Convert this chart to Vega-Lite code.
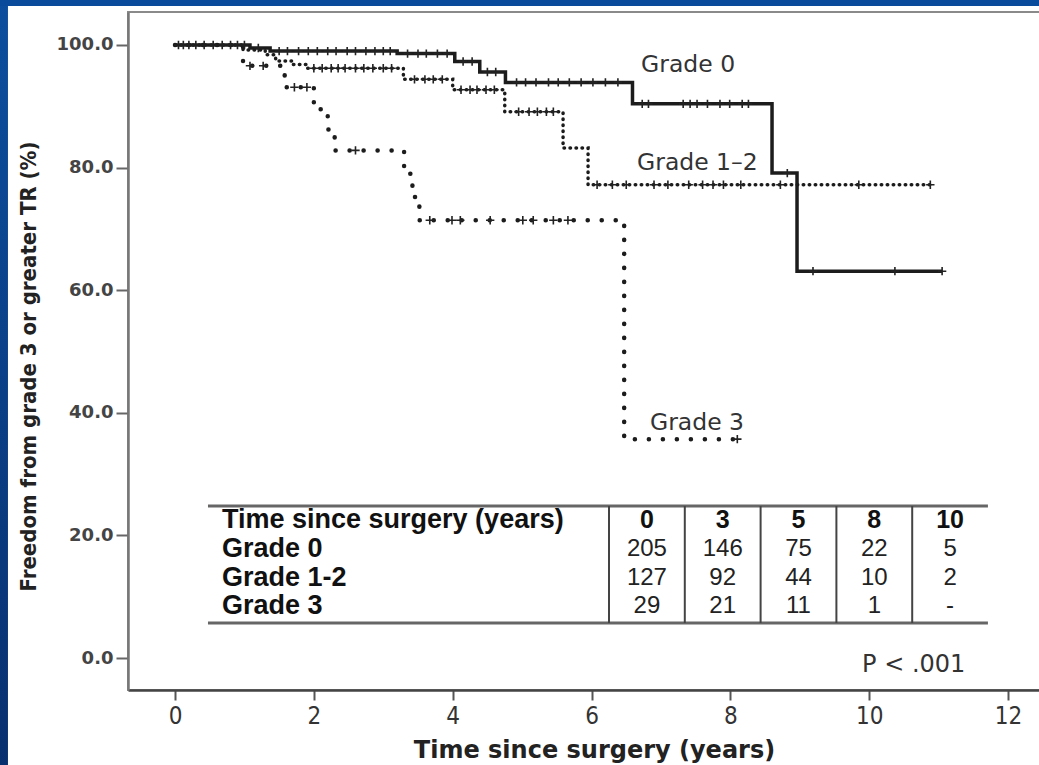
{
  "$schema": "https://vega.github.io/schema/vega-lite/v6.json",
  "width": 912,
  "height": 678,
  "autosize": {"type": "none"},
  "padding": {"left": 128, "top": 12, "right": 0, "bottom": 75},
  "background": "#ffffff",
  "config": {"view": {"stroke": "#8a8a8a", "strokeWidth": 2}},
  "datasets": {
    "km": [
      {"grade": "Grade 0", "t": 0, "s": 100}, {"grade": "Grade 0", "t": 1.08, "s": 99.5}, {"grade": "Grade 0", "t": 1.37, "s": 99.0},
      {"grade": "Grade 0", "t": 3.2, "s": 98.6}, {"grade": "Grade 0", "t": 4.03, "s": 97.3}, {"grade": "Grade 0", "t": 4.39, "s": 95.6},
      {"grade": "Grade 0", "t": 4.76, "s": 93.9}, {"grade": "Grade 0", "t": 6.59, "s": 90.4}, {"grade": "Grade 0", "t": 8.6, "s": 79.1},
      {"grade": "Grade 0", "t": 8.96, "s": 63.1}, {"grade": "Grade 0", "t": 11.05, "s": 63.1},
      {"grade": "Grade 1-2", "t": 0, "s": 100}, {"grade": "Grade 1-2", "t": 0.98, "s": 99.2}, {"grade": "Grade 1-2", "t": 1.3, "s": 98.4},
      {"grade": "Grade 1-2", "t": 1.45, "s": 97.4}, {"grade": "Grade 1-2", "t": 1.68, "s": 96.8}, {"grade": "Grade 1-2", "t": 1.9, "s": 96.2},
      {"grade": "Grade 1-2", "t": 3.29, "s": 94.4}, {"grade": "Grade 1-2", "t": 4.0, "s": 92.7}, {"grade": "Grade 1-2", "t": 4.75, "s": 89.1},
      {"grade": "Grade 1-2", "t": 5.59, "s": 83.2}, {"grade": "Grade 1-2", "t": 5.95, "s": 77.2}, {"grade": "Grade 1-2", "t": 10.88, "s": 77.2},
      {"grade": "Grade 3", "t": 0, "s": 100}, {"grade": "Grade 3", "t": 0.98, "s": 96.6}, {"grade": "Grade 3", "t": 1.58, "s": 93.1},
      {"grade": "Grade 3", "t": 2.0, "s": 89.5}, {"grade": "Grade 3", "t": 2.2, "s": 86.2}, {"grade": "Grade 3", "t": 2.3, "s": 82.8},
      {"grade": "Grade 3", "t": 3.3, "s": 79.0}, {"grade": "Grade 3", "t": 3.42, "s": 75.2}, {"grade": "Grade 3", "t": 3.52, "s": 71.4},
      {"grade": "Grade 3", "t": 6.47, "s": 35.7}, {"grade": "Grade 3", "t": 8.1, "s": 35.7}
    ],
    "censor": [
      {"grade": "Grade 0", "t": 0.05, "s": 100}, {"grade": "Grade 0", "t": 0.12, "s": 100}, {"grade": "Grade 0", "t": 0.2, "s": 100},
      {"grade": "Grade 0", "t": 0.3, "s": 100}, {"grade": "Grade 0", "t": 0.42, "s": 100}, {"grade": "Grade 0", "t": 0.55, "s": 100},
      {"grade": "Grade 0", "t": 0.68, "s": 100}, {"grade": "Grade 0", "t": 0.8, "s": 100}, {"grade": "Grade 0", "t": 0.9, "s": 100},
      {"grade": "Grade 0", "t": 1.0, "s": 100}, {"grade": "Grade 0", "t": 1.2, "s": 99.5},
      {"grade": "Grade 0", "t": 1.5, "s": 99.0}, {"grade": "Grade 0", "t": 1.62, "s": 99.0}, {"grade": "Grade 0", "t": 1.78, "s": 99.0},
      {"grade": "Grade 0", "t": 1.92, "s": 99.0}, {"grade": "Grade 0", "t": 2.05, "s": 99.0}, {"grade": "Grade 0", "t": 2.2, "s": 99.0},
      {"grade": "Grade 0", "t": 2.32, "s": 99.0}, {"grade": "Grade 0", "t": 2.48, "s": 99.0}, {"grade": "Grade 0", "t": 2.6, "s": 99.0},
      {"grade": "Grade 0", "t": 2.75, "s": 99.0}, {"grade": "Grade 0", "t": 2.88, "s": 99.0}, {"grade": "Grade 0", "t": 3.0, "s": 99.0},
      {"grade": "Grade 0", "t": 3.1, "s": 99.0},
      {"grade": "Grade 0", "t": 3.35, "s": 98.6}, {"grade": "Grade 0", "t": 3.5, "s": 98.6}, {"grade": "Grade 0", "t": 3.62, "s": 98.6},
      {"grade": "Grade 0", "t": 3.78, "s": 98.6}, {"grade": "Grade 0", "t": 3.92, "s": 98.6},
      {"grade": "Grade 0", "t": 4.15, "s": 97.3}, {"grade": "Grade 0", "t": 4.28, "s": 97.3},
      {"grade": "Grade 0", "t": 4.5, "s": 95.6}, {"grade": "Grade 0", "t": 4.62, "s": 95.6},
      {"grade": "Grade 0", "t": 4.92, "s": 93.9}, {"grade": "Grade 0", "t": 5.05, "s": 93.9}, {"grade": "Grade 0", "t": 5.2, "s": 93.9},
      {"grade": "Grade 0", "t": 5.38, "s": 93.9}, {"grade": "Grade 0", "t": 5.52, "s": 93.9}, {"grade": "Grade 0", "t": 5.68, "s": 93.9},
      {"grade": "Grade 0", "t": 5.85, "s": 93.9}, {"grade": "Grade 0", "t": 6.02, "s": 93.9}, {"grade": "Grade 0", "t": 6.2, "s": 93.9},
      {"grade": "Grade 0", "t": 6.38, "s": 93.9},
      {"grade": "Grade 0", "t": 6.73, "s": 90.4}, {"grade": "Grade 0", "t": 6.82, "s": 90.4}, {"grade": "Grade 0", "t": 7.32, "s": 90.4},
      {"grade": "Grade 0", "t": 7.42, "s": 90.4}, {"grade": "Grade 0", "t": 7.52, "s": 90.4}, {"grade": "Grade 0", "t": 7.67, "s": 90.4},
      {"grade": "Grade 0", "t": 7.85, "s": 90.4}, {"grade": "Grade 0", "t": 7.99, "s": 90.4}, {"grade": "Grade 0", "t": 8.17, "s": 90.4},
      {"grade": "Grade 0", "t": 8.26, "s": 90.4}, {"grade": "Grade 0", "t": 8.82, "s": 79.1},
      {"grade": "Grade 0", "t": 9.19, "s": 63.1}, {"grade": "Grade 0", "t": 10.37, "s": 63.1}, {"grade": "Grade 0", "t": 11.05, "s": 63.1},
      {"grade": "Grade 1-2", "t": 2.0, "s": 96.2}, {"grade": "Grade 1-2", "t": 2.12, "s": 96.2}, {"grade": "Grade 1-2", "t": 2.25, "s": 96.2},
      {"grade": "Grade 1-2", "t": 2.35, "s": 96.2}, {"grade": "Grade 1-2", "t": 2.45, "s": 96.2}, {"grade": "Grade 1-2", "t": 2.6, "s": 96.2},
      {"grade": "Grade 1-2", "t": 2.72, "s": 96.2}, {"grade": "Grade 1-2", "t": 2.85, "s": 96.2}, {"grade": "Grade 1-2", "t": 3.0, "s": 96.2},
      {"grade": "Grade 1-2", "t": 3.12, "s": 96.2},
      {"grade": "Grade 1-2", "t": 3.45, "s": 94.4}, {"grade": "Grade 1-2", "t": 3.6, "s": 94.4}, {"grade": "Grade 1-2", "t": 3.72, "s": 94.4},
      {"grade": "Grade 1-2", "t": 3.85, "s": 94.4},
      {"grade": "Grade 1-2", "t": 4.12, "s": 92.7}, {"grade": "Grade 1-2", "t": 4.25, "s": 92.7}, {"grade": "Grade 1-2", "t": 4.35, "s": 92.7},
      {"grade": "Grade 1-2", "t": 4.48, "s": 92.7}, {"grade": "Grade 1-2", "t": 4.6, "s": 92.7},
      {"grade": "Grade 1-2", "t": 4.95, "s": 89.1}, {"grade": "Grade 1-2", "t": 5.1, "s": 89.1}, {"grade": "Grade 1-2", "t": 5.22, "s": 89.1},
      {"grade": "Grade 1-2", "t": 5.35, "s": 89.1}, {"grade": "Grade 1-2", "t": 5.45, "s": 89.1},
      {"grade": "Grade 1-2", "t": 6.08, "s": 77.2}, {"grade": "Grade 1-2", "t": 6.3, "s": 77.2}, {"grade": "Grade 1-2", "t": 6.5, "s": 77.2},
      {"grade": "Grade 1-2", "t": 6.9, "s": 77.2}, {"grade": "Grade 1-2", "t": 7.1, "s": 77.2}, {"grade": "Grade 1-2", "t": 7.4, "s": 77.2},
      {"grade": "Grade 1-2", "t": 7.6, "s": 77.2}, {"grade": "Grade 1-2", "t": 7.75, "s": 77.2}, {"grade": "Grade 1-2", "t": 7.9, "s": 77.2},
      {"grade": "Grade 1-2", "t": 8.15, "s": 77.2}, {"grade": "Grade 1-2", "t": 8.72, "s": 77.2}, {"grade": "Grade 1-2", "t": 9.85, "s": 77.2},
      {"grade": "Grade 1-2", "t": 10.88, "s": 77.2},
      {"grade": "Grade 3", "t": 1.08, "s": 96.6}, {"grade": "Grade 3", "t": 1.27, "s": 96.6},
      {"grade": "Grade 3", "t": 1.72, "s": 93.1}, {"grade": "Grade 3", "t": 1.9, "s": 93.1}, {"grade": "Grade 3", "t": 2.6, "s": 82.8},
      {"grade": "Grade 3", "t": 3.67, "s": 71.4}, {"grade": "Grade 3", "t": 3.99, "s": 71.4}, {"grade": "Grade 3", "t": 4.11, "s": 71.4},
      {"grade": "Grade 3", "t": 4.54, "s": 71.4}, {"grade": "Grade 3", "t": 5.01, "s": 71.4}, {"grade": "Grade 3", "t": 5.16, "s": 71.4},
      {"grade": "Grade 3", "t": 5.45, "s": 71.4}, {"grade": "Grade 3", "t": 5.66, "s": 71.4}, {"grade": "Grade 3", "t": 8.1, "s": 35.7}
    ],
    "atrisk": [
      {"grade": "Grade 0", "year": 0, "n": "205"}, {"grade": "Grade 0", "year": 3, "n": "146"}, {"grade": "Grade 0", "year": 5, "n": "75"},
      {"grade": "Grade 0", "year": 8, "n": "22"}, {"grade": "Grade 0", "year": 10, "n": "5"},
      {"grade": "Grade 1-2", "year": 0, "n": "127"}, {"grade": "Grade 1-2", "year": 3, "n": "92"}, {"grade": "Grade 1-2", "year": 5, "n": "44"},
      {"grade": "Grade 1-2", "year": 8, "n": "10"}, {"grade": "Grade 1-2", "year": 10, "n": "2"},
      {"grade": "Grade 3", "year": 0, "n": "29"}, {"grade": "Grade 3", "year": 3, "n": "21"}, {"grade": "Grade 3", "year": 5, "n": "11"},
      {"grade": "Grade 3", "year": 8, "n": "1"}, {"grade": "Grade 3", "year": 10, "n": "-"}
    ]
  },
  "resolve": {"scale": {"x": "independent", "y": "independent"}},
  "layer": [
    {
      "layer": [
        {
          "data": {"name": "km"},
          "transform": [{"filter": "datum.grade === 'Grade 0'"}],
          "mark": {"type": "line", "interpolate": "step-after", "color": "#1c1c1c", "strokeWidth": 3.5},
          "encoding": {
            "x": {
              "field": "t", "type": "quantitative",
              "scale": {"domain": [-0.677, 12.46], "nice": false, "zero": false},
              "axis": {
                "title": "Time since surgery (years)", "values": [0, 2, 4, 6, 8, 10, 12], "format": "d", "grid": false,
                "domainColor": "#444", "domainWidth": 2.5, "tickColor": "#555", "tickWidth": 2, "tickSize": 10,
                "labelFont": "Liberation Sans Narrow, DejaVu Sans Condensed, sans-serif", "labelFontSize": 24, "labelColor": "#333",
                "labelPadding": 4, "labelFlush": false,
                "titleFont": "DejaVu Sans", "titleFontWeight": "bold", "titleFontSize": 24, "titleColor": "#222",
                "titleX": 466, "titleY": 60, "titleBaseline": "middle", "zindex": 1
              }
            },
            "y": {
              "field": "s", "type": "quantitative",
              "scale": {"domain": [-5.22, 105.38], "nice": false, "zero": false},
              "axis": {
                "title": "Freedom from grade 3 or greater TR (%)", "values": [0, 20, 40, 60, 80, 100], "format": ".1f", "grid": false,
                "domainColor": "#777", "domainWidth": 2.5, "tickColor": "#666", "tickWidth": 2, "tickSize": 12,
                "labelFont": "DejaVu Sans", "labelFontWeight": "bold", "labelFontSize": 18, "labelColor": "#444",
                "labelPadding": 3, "labelFlush": false,
                "titleFont": "DejaVu Sans Condensed, DejaVu Sans", "titleFontWeight": "bold", "titleFontSize": 22, "titleColor": "#222",
                "titleX": -100, "titleY": 354, "titleBaseline": "middle", "zindex": 1
              }
            }
          }
        },
        {
          "data": {"name": "km"},
          "transform": [{"filter": "datum.grade === 'Grade 1-2'"}],
          "mark": {"type": "line", "interpolate": "step-after", "color": "#1c1c1c", "strokeWidth": 3.5, "strokeCap": "round", "strokeDash": [0.5, 5.5]},
          "encoding": {"x": {"field": "t", "type": "quantitative"}, "y": {"field": "s", "type": "quantitative"}}
        },
        {
          "data": {"name": "km"},
          "transform": [{"filter": "datum.grade === 'Grade 3'"}],
          "mark": {"type": "line", "interpolate": "step-after", "color": "#1c1c1c", "strokeWidth": 4.5, "strokeCap": "round", "strokeDash": [0.1, 13.9]},
          "encoding": {"x": {"field": "t", "type": "quantitative"}, "y": {"field": "s", "type": "quantitative"}}
        },
        {
          "data": {"name": "censor"},
          "mark": {"type": "point", "shape": "M0,-1L0,1M-1,0L1,0", "filled": false, "stroke": "#222", "strokeWidth": 1.6, "size": 70, "opacity": 1},
          "encoding": {"x": {"field": "t", "type": "quantitative"}, "y": {"field": "s", "type": "quantitative"}}
        },
        {
          "data": {"values": [{}]},
          "mark": {"type": "rect", "fill": {"gradient": "linear", "x1": 0, "y1": 0, "x2": 0, "y2": 1, "stops": [{"offset": 0, "color": "#0c4f9e"}, {"offset": 1, "color": "#08306f"}]}},
          "encoding": {"x": {"datum": -2.593}, "x2": {"datum": -2.406}, "y": {"datum": 108.16}, "y2": {"datum": -18.27}}
        },
        {
          "data": {"values": [{}]},
          "mark": {"type": "rect", "fill": "#0a4b9b"},
          "encoding": {"x": {"datum": -2.593}, "x2": {"datum": 12.53}, "y": {"datum": 108.16}, "y2": {"datum": 106.36}}
        },
        {
          "data": {"values": [{}]},
          "mark": {"type": "text", "text": "Grade 0", "align": "left", "baseline": "middle", "font": "DejaVu Sans", "fontSize": 23.5, "color": "#333"},
          "encoding": {"x": {"datum": 6.713}, "y": {"datum": 96.74}}
        },
        {
          "data": {"values": [{}]},
          "mark": {"type": "text", "text": "Grade 1–2", "align": "left", "baseline": "middle", "font": "DejaVu Sans", "fontSize": 23.5, "color": "#333"},
          "encoding": {"x": {"datum": 6.655}, "y": {"datum": 80.75}}
        },
        {
          "data": {"values": [{}]},
          "mark": {"type": "text", "text": "Grade 3", "align": "left", "baseline": "middle", "font": "DejaVu Sans", "fontSize": 23.5, "color": "#333"},
          "encoding": {"x": {"datum": 6.842}, "y": {"datum": 38.34}}
        },
        {
          "data": {"values": [{}]},
          "mark": {"type": "text", "text": "P < .001", "align": "left", "baseline": "middle", "font": "DejaVu Sans", "fontSize": 24, "color": "#333"},
          "encoding": {"x": {"datum": 9.897}, "y": {"datum": -1.14}}
        },
        {
          "data": {"values": [{}]},
          "mark": {"type": "rule", "color": "#666", "strokeWidth": 3},
          "encoding": {"x": {"datum": 0.475}, "x2": {"datum": 11.71}, "y": {"datum": 24.8}}
        },
        {
          "data": {"values": [{}]},
          "mark": {"type": "rule", "color": "#666", "strokeWidth": 3},
          "encoding": {"x": {"datum": 0.475}, "x2": {"datum": 11.71}, "y": {"datum": 5.71}}
        },
        {
          "data": {"values": [{}]},
          "mark": {"type": "text", "text": "Time since surgery (years)", "align": "left", "baseline": "middle", "font": "Liberation Sans", "fontWeight": "bold", "fontSize": 27, "color": "#111"},
          "encoding": {"x": {"datum": 0.677}, "y": {"datum": 22.51}}
        },
        {
          "data": {"values": [{}]},
          "mark": {"type": "text", "text": "Grade 0", "align": "left", "baseline": "middle", "font": "Liberation Sans", "fontWeight": "bold", "fontSize": 27, "color": "#111"},
          "encoding": {"x": {"datum": 0.677}, "y": {"datum": 17.78}}
        },
        {
          "data": {"values": [{}]},
          "mark": {"type": "text", "text": "Grade 1-2", "align": "left", "baseline": "middle", "font": "Liberation Sans", "fontWeight": "bold", "fontSize": 27, "color": "#111"},
          "encoding": {"x": {"datum": 0.677}, "y": {"datum": 13.05}}
        },
        {
          "data": {"values": [{}]},
          "mark": {"type": "text", "text": "Grade 3", "align": "left", "baseline": "middle", "font": "Liberation Sans", "fontWeight": "bold", "fontSize": 27, "color": "#111"},
          "encoding": {"x": {"datum": 0.677}, "y": {"datum": 8.48}}
        }
      ]
    },
    {
      "resolve": {"scale": {"y": "independent"}},
      "layer": [
        {
          "data": {"name": "atrisk"},
          "transform": [{"filter": "datum.grade === 'Grade 0'"}],
          "mark": {"type": "rule", "color": "#444", "strokeWidth": 2},
          "encoding": {
            "x": {"field": "year", "type": "ordinal", "bandPosition": 0,
                  "scale": {"type": "band", "domain": [0, 3, 5, 8, 10], "range": [481, 860], "paddingInner": 0, "paddingOuter": 0, "round": false},
                  "axis": null},
            "y": {"datum": 24.8, "scale": {"domain": [-5.22, 105.38], "nice": false, "zero": false}, "axis": null},
            "y2": {"datum": 5.71}
          }
        },
        {
          "data": {"name": "atrisk"},
          "transform": [{"filter": "datum.grade === 'Grade 0'"}],
          "mark": {"type": "text", "align": "center", "baseline": "middle", "font": "Liberation Sans", "fontWeight": "bold", "fontSize": 25, "color": "#111"},
          "encoding": {
            "x": {"field": "year", "type": "ordinal",
                  "scale": {"type": "band", "domain": [0, 3, 5, 8, 10], "range": [481, 860], "paddingInner": 0, "paddingOuter": 0, "round": false},
                  "axis": null},
            "y": {"datum": 22.51, "scale": {"domain": [-5.22, 105.38], "nice": false, "zero": false}, "axis": null},
            "text": {"field": "year", "type": "ordinal"}
          }
        },
        {
          "data": {"name": "atrisk"},
          "mark": {"type": "text", "align": "center", "baseline": "middle", "font": "Liberation Sans", "fontSize": 24, "color": "#222"},
          "encoding": {
            "x": {"field": "year", "type": "ordinal",
                  "scale": {"type": "band", "domain": [0, 3, 5, 8, 10], "range": [481, 860], "paddingInner": 0, "paddingOuter": 0, "round": false},
                  "axis": null},
            "y": {"field": "grade", "type": "nominal",
                  "scale": {"type": "point", "domain": ["Grade 0", "Grade 1-2", "Grade 3"], "range": [537, 594], "padding": 0},
                  "axis": null},
            "text": {"field": "n", "type": "nominal"}
          }
        }
      ]
    }
  ]
}
